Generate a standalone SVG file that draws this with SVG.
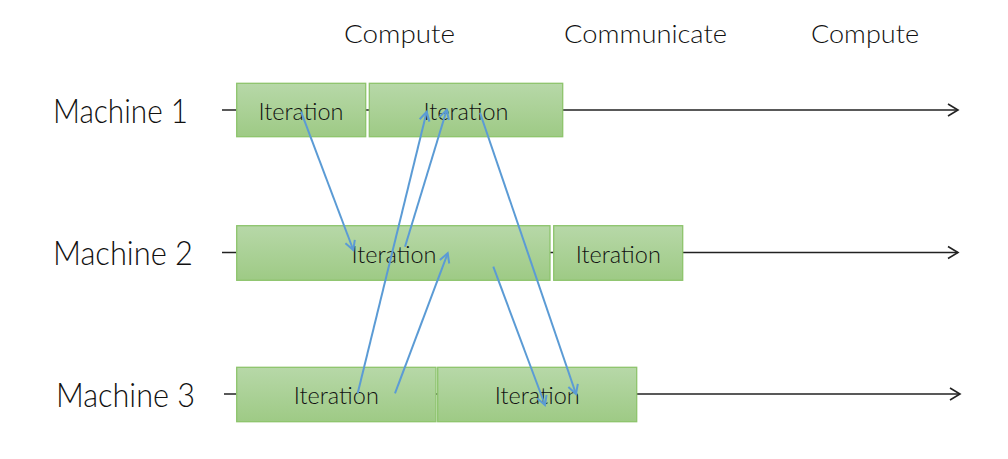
<svg xmlns="http://www.w3.org/2000/svg" width="1008" height="459" viewBox="0 0 1008 459">
<style>
.lbl{font-family:Lato,"Open Sans","Liberation Sans",sans-serif;fill:#111;font-weight:300;}
.mach{font-size:33px;}
.head{font-size:26px;}
.it{font-size:23px;text-anchor:middle;}
.box{fill:url(#g);stroke:#8DC46C;stroke-width:1.3;}
.tl{stroke:#222;stroke-width:1.6;fill:none;marker-end:url(#ah);}
.msg{stroke:#5B9BD5;stroke-width:2;fill:none;marker-end:url(#bh);}
</style>
<defs>
<linearGradient id="g" x1="0" y1="0" x2="0" y2="1">
<stop offset="0" stop-color="#B7D8A8"/>
<stop offset="1" stop-color="#9ECA85"/>
</linearGradient>
<marker id="ah" markerUnits="userSpaceOnUse" markerWidth="14" markerHeight="14" refX="11" refY="6" orient="auto" overflow="visible">
<path d="M1,0 L11,6 L1,12" fill="none" stroke="#222" stroke-width="1.6"/>
</marker>
<marker id="bh" markerUnits="userSpaceOnUse" markerWidth="14" markerHeight="14" refX="10" refY="5" orient="auto" overflow="visible">
<path d="M1,0 L10,5 L1,10" fill="none" stroke="#5B9BD5" stroke-width="2"/>
</marker>
</defs>

<g id="headers">
<text class="lbl head" x="344" y="43" textLength="111" lengthAdjust="spacingAndGlyphs">Compute</text>
<text class="lbl head" x="564" y="43" textLength="163" lengthAdjust="spacingAndGlyphs">Communicate</text>
<text class="lbl head" x="811" y="43" textLength="108" lengthAdjust="spacingAndGlyphs">Compute</text>
</g>

<g id="timelines">
<line class="tl" x1="222" y1="110" x2="958" y2="110"/>
<line class="tl" x1="222" y1="252.5" x2="958" y2="252.5"/>
<line class="tl" x1="224" y1="394" x2="960" y2="394"/>
</g>

<g id="machine1">
<text class="lbl mach" x="53" y="123" textLength="135" lengthAdjust="spacingAndGlyphs">Machine 1</text>
</g>
<g id="machine2">
<text class="lbl mach" x="53" y="265" textLength="140" lengthAdjust="spacingAndGlyphs">Machine 2</text>
</g>
<g id="machine3">
<text class="lbl mach" x="56" y="407" textLength="139" lengthAdjust="spacingAndGlyphs">Machine 3</text>
</g>

<g id="m1-iter1">
<rect class="box" x="236.7" y="83.3" width="129" height="53.4"/>
<text class="lbl it" x="301" y="120" textLength="85" lengthAdjust="spacingAndGlyphs">Iteration</text>
</g>
<g id="m1-iter2">
<rect class="box" x="369.3" y="83.3" width="193.4" height="53.4"/>
<text class="lbl it" x="466" y="120" textLength="85" lengthAdjust="spacingAndGlyphs">Iteration</text>
</g>
<g id="m2-iter1">
<rect class="box" x="236.7" y="225.7" width="313.3" height="54.6"/>
<text class="lbl it" x="394" y="262.7" textLength="85" lengthAdjust="spacingAndGlyphs">Iteration</text>
</g>
<g id="m2-iter2">
<rect class="box" x="553.7" y="225.7" width="129" height="54.6"/>
<text class="lbl it" x="618.3" y="262.7" textLength="85" lengthAdjust="spacingAndGlyphs">Iteration</text>
</g>
<g id="m3-iter1">
<rect class="box" x="236.7" y="367.3" width="199.3" height="54.4"/>
<text class="lbl it" x="336.3" y="403.5" textLength="85" lengthAdjust="spacingAndGlyphs">Iteration</text>
</g>
<g id="m3-iter2">
<rect class="box" x="437.7" y="367.3" width="199" height="54.4"/>
<text class="lbl it" x="537.2" y="403.5" textLength="85" lengthAdjust="spacingAndGlyphs">Iteration</text>
</g>

<g id="connectors">
<line class="msg" x1="301" y1="111.7" x2="353.3" y2="250"/>
<line class="msg" x1="357.7" y1="393.3" x2="426.7" y2="111.7"/>
<line class="msg" x1="405" y1="246.7" x2="446.7" y2="110"/>
<line class="msg" x1="395" y1="393.3" x2="447.7" y2="253.3"/>
<line class="msg" x1="480" y1="112.7" x2="576" y2="394"/>
<line class="msg" x1="493.3" y1="266.7" x2="545" y2="405"/>
</g>
</svg>
